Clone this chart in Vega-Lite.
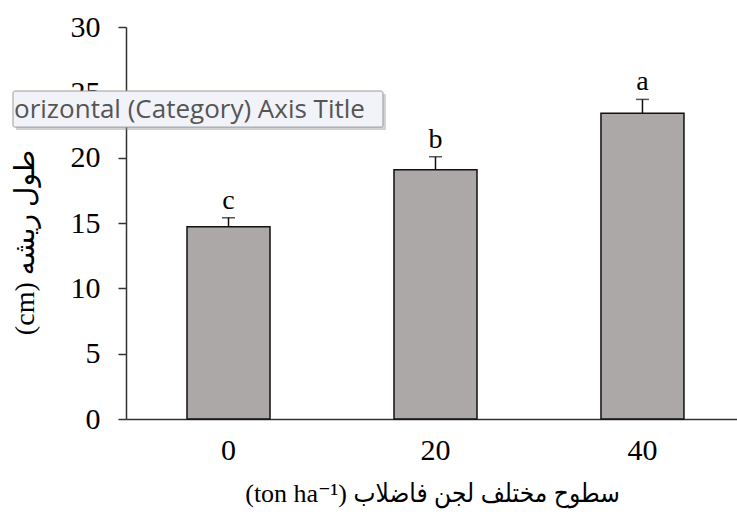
{
  "$schema": "https://vega.github.io/schema/vega-lite/v6.json",
  "width": 611,
  "height": 392,
  "autosize": {"type": "none"},
  "padding": {"left": 126, "top": 27, "right": 0, "bottom": 102},
  "background": "white",
  "config": {
    "view": {"stroke": null},
    "font": "Liberation Serif"
  },
  "data": {
    "values": [
      {"dose": "0", "mean": 14.71, "upper": 15.4, "group": "c"},
      {"dose": "20", "mean": 19.07, "upper": 20.07, "group": "b"},
      {"dose": "40", "mean": 23.39, "upper": 24.46, "group": "a"}
    ]
  },
  "resolve": {"scale": {"x": "independent"}, "axis": {"x": "independent"}},
  "layer": [
    {
      "encoding": {
        "x": {
          "field": "dose", "type": "ordinal", "sort": ["0", "20", "40"],
          "scale": {"paddingInner": 0.599, "paddingOuter": 0.2755, "align": 0.535},
          "axis": {
            "title": "(ton ha⁻¹) سطوح مختلف لجن فاضلاب",
            "titleFont": "Liberation Serif, DejaVu Sans Condensed, DejaVu Sans",
            "titleFontSize": 26,
            "titleFontWeight": "normal",
            "titleColor": "#000000",
            "titleX": 306,
            "titleY": 74,
            "titleAlign": "center",
            "titleBaseline": "middle",
            "labelAngle": 0,
            "labelFont": "Liberation Serif",
            "labelFontSize": 30,
            "labelColor": "#000000",
            "labelPadding": 16,
            "ticks": false,
            "domainColor": "#333333",
            "domainWidth": 1.5
          }
        }
      },
      "layer": [
        {
          "mark": {"type": "bar", "fill": "#aca8a7", "stroke": "#111111", "strokeWidth": 1.5},
          "encoding": {
            "y": {
              "field": "mean", "type": "quantitative",
              "scale": {"domain": [0, 30], "nice": false},
              "axis": {
                "values": [0, 5, 10, 15, 20, 25, 30],
                "grid": false,
                "title": "(cm) طول ریشه",
                "titleFont": "Liberation Serif, DejaVu Sans",
                "titleFontSize": 28,
                "titleFontWeight": "normal",
                "titleColor": "#000000",
                "titleAngle": 270,
                "titleX": -101,
                "titleY": 215,
                "titleAlign": "center",
                "titleBaseline": "middle",
                "labelFont": "Liberation Serif",
                "labelFontSize": 30,
                "labelColor": "#000000",
                "labelPadding": 18,
                "tickSize": 8,
                "tickColor": "#333333",
                "tickWidth": 1.5,
                "domainColor": "#333333",
                "domainWidth": 1.5
              }
            }
          }
        },
        {
          "mark": {"type": "rule", "stroke": "#111111", "strokeWidth": 1.5},
          "encoding": {
            "y": {"field": "mean", "type": "quantitative"},
            "y2": {"field": "upper"}
          }
        },
        {
          "mark": {"type": "tick", "color": "#111111", "thickness": 1.5, "size": 13, "orient": "horizontal"},
          "encoding": {
            "y": {"field": "upper", "type": "quantitative"}
          }
        },
        {
          "mark": {"type": "text", "font": "Liberation Serif", "fontSize": 28, "color": "#000000", "baseline": "alphabetic", "dy": -9},
          "encoding": {
            "y": {"field": "upper", "type": "quantitative"},
            "text": {"field": "group"}
          }
        }
      ]
    },
    {
      "data": {"values": [{"label": "orizontal (Category) Axis Title"}]},
      "encoding": {
        "x": {"datum": -0.546, "type": "quantitative", "scale": {"domain": [0, 2.952], "nice": false, "zero": false}, "axis": null}
      },
      "layer": [
        {
          "mark": {"type": "rect", "fill": "#9a9a9a", "opacity": 0.45, "xOffset": 3, "x2Offset": 3, "yOffset": 3, "y2Offset": 3, "clip": false},
          "encoding": {
            "x2": {"datum": 1.2415},
            "y": {"datum": 25.1, "type": "quantitative"},
            "y2": {"datum": 22.34}
          }
        },
        {
          "mark": {"type": "rect", "fill": "#f1f3f9", "stroke": "#9c9c9c", "strokeWidth": 1, "cornerRadius": 2, "clip": false},
          "encoding": {
            "x2": {"datum": 1.2415},
            "y": {"datum": 25.1, "type": "quantitative"},
            "y2": {"datum": 22.34}
          }
        },
        {
          "mark": {"type": "text", "font": "Open Sans", "fontSize": 26, "color": "#555555", "align": "left", "baseline": "middle"},
          "encoding": {
            "x": {"datum": -0.541, "type": "quantitative"},
            "y": {"datum": 23.64, "type": "quantitative"},
            "text": {"field": "label"}
          }
        }
      ]
    }
  ]
}
